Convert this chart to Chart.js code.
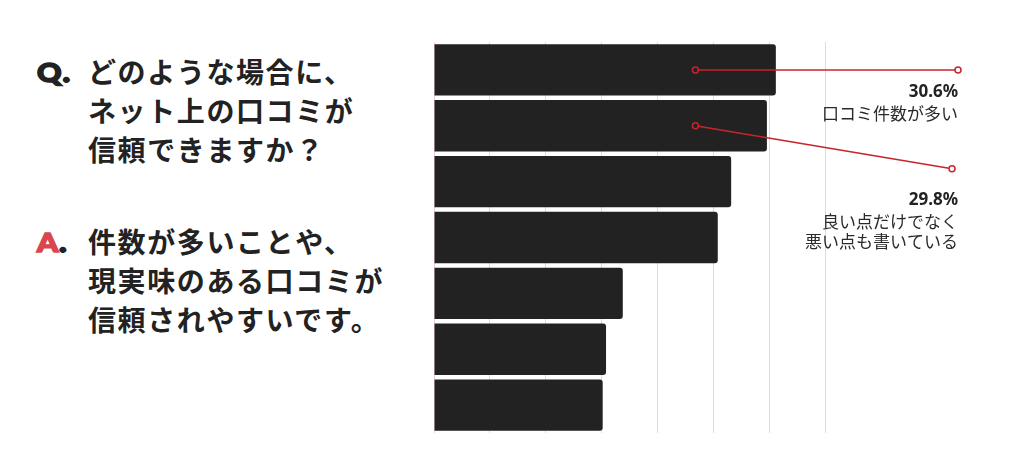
<!DOCTYPE html>
<html lang="ja">
<head>
  <meta charset="UTF-8" />
  <title>口コミの信頼</title>
  <script src="https://cdn.jsdelivr.net/npm/chart.js@4.4.1/dist/chart.umd.min.js"></script>
  <style>
    html, body {
      margin: 0;
      padding: 0;
      background: #fff;
      width: 1028px;
      height: 472px;
      overflow: hidden;
    }
    .qa {
      position: absolute;
      left: 36px;
      font-family: 'Noto Sans CJK JP', sans-serif;
      font-weight: 700;
      font-size: 28px;
      line-height: 39px;
      color: #222;
      letter-spacing: 1.6px;
    }
    .qa .mark {
      position: absolute;
      left: 1px;
      top: 0;
      font-family: 'Lato', sans-serif;
      font-weight: 900;
      font-size: 27px;
      letter-spacing: 0;
      -webkit-text-stroke: 1.6px currentColor;
      transform: scaleX(1.12);
      transform-origin: left center;
    }
    .qa .mark i { font-style: normal; color: #222; -webkit-text-stroke: 2px #222; margin-left: 1px; }
    .qa .body { margin-left: 52px; }
    #q { top: 52px; }
    #a { top: 222px; }
    #a .mark { color: #d8474e; }
    .chart-box {
      position: absolute;
      left: 0;
      top: 0;
      width: 1028px;
      height: 472px;
    }
  </style>
</head>
<body>
  <div class="qa" id="q">
    <span class="mark">Q<i>.</i></span>
    <div class="body">どのような場合に、<br>ネット上の口コミが<br>信頼できますか？</div>
  </div>
  <div class="qa" id="a">
    <span class="mark">A<i>.</i></span>
    <div class="body">件数が多いことや、<br>現実味のある口コミが<br>信頼されやすいです。</div>
  </div>

  <div class="chart-box">
    <canvas id="barChart"></canvas>
  </div>

  <script>
    // 回答項目（上から順）
    const categories = ['口コミ件数が多い', '良い点だけでなく悪い点も書いている', '項目3', '項目4', '項目5', '項目6', '項目7'];
    const values = [30.6, 29.8, 26.6, 25.4, 16.9, 15.4, 15.1];
    const axisMax = 35;
    const axisStep = 5;

    // 注釈（どの棒から引き出すか、ラベル）
    const callouts = [
      { index: 0, anchor: 23.4, pct: '30.6%', lines: ['口コミ件数が多い'], endDx: 133, endDy: 0, textDy: 22 },
      { index: 1, anchor: 23.4, pct: '29.8%', lines: ['良い点だけでなく', '悪い点も書いている'], endDx: 127, endDy: 43, textDy: 31 }
    ];

    const calloutPlugin = {
      id: 'callouts',
      afterDatasetsDraw(chart) {
        const ctx = chart.ctx;
        const x = chart.scales.x;
        const y = chart.scales.y;
        const right = chart.chartArea.right;
        callouts.forEach(c => {
          const sx = x.getPixelForValue(c.anchor);
          const sy = y.getPixelForValue(c.index);
          const ex = right + c.endDx;
          const ey = sy + c.endDy;
          ctx.save();
          ctx.strokeStyle = '#c8242c';
          ctx.lineWidth = 1.5;
          ctx.beginPath();
          ctx.moveTo(sx, sy);
          ctx.lineTo(ex, ey);
          ctx.stroke();
          ctx.beginPath();
          ctx.arc(sx, sy, 3, 0, Math.PI * 2);
          ctx.fillStyle = '#222';
          ctx.fill();
          ctx.stroke();
          ctx.beginPath();
          ctx.arc(ex, ey, 3, 0, Math.PI * 2);
          ctx.fillStyle = '#fff';
          ctx.fill();
          ctx.stroke();

          ctx.textAlign = 'right';
          ctx.textBaseline = 'middle';
          ctx.fillStyle = '#222';
          const tx = right + 133;
          const ty = ey + c.textDy;
          ctx.font = 'bold 17px "Noto Sans", sans-serif';
          ctx.fillText(c.pct, tx, ty);
          ctx.font = '17px "Noto Sans CJK JP", sans-serif';
          ctx.fillStyle = '#2a2a2a';
          c.lines.forEach((t, i) => ctx.fillText(t, tx, ty + 22 + i * 19.5));
          ctx.restore();
        });
      }
    };

    const chart = new Chart(document.getElementById('barChart'), {
      type: 'bar',
      data: {
        labels: categories,
        datasets: [{
          data: values,
          backgroundColor: '#222222',
          borderRadius: 3,
          borderSkipped: 'start',
          barPercentage: 0.92,
          categoryPercentage: 1
        }]
      },
      options: {
        indexAxis: 'y',
        responsive: true,
        maintainAspectRatio: false,
        animation: false,
        layout: { padding: { left: 434, right: 203, top: 42, bottom: 39 } },
        scales: {
          x: {
            min: 0,
            max: axisMax,
            ticks: { display: false, stepSize: axisStep },
            grid: { color: '#f5d0d6', lineWidth: 1, drawTicks: false },
            border: { display: false }
          },
          y: { display: false }
        },
        plugins: {
          legend: { display: false },
          tooltip: { enabled: false }
        }
      },
      plugins: [calloutPlugin]
    });
  </script>
</body>
</html>
